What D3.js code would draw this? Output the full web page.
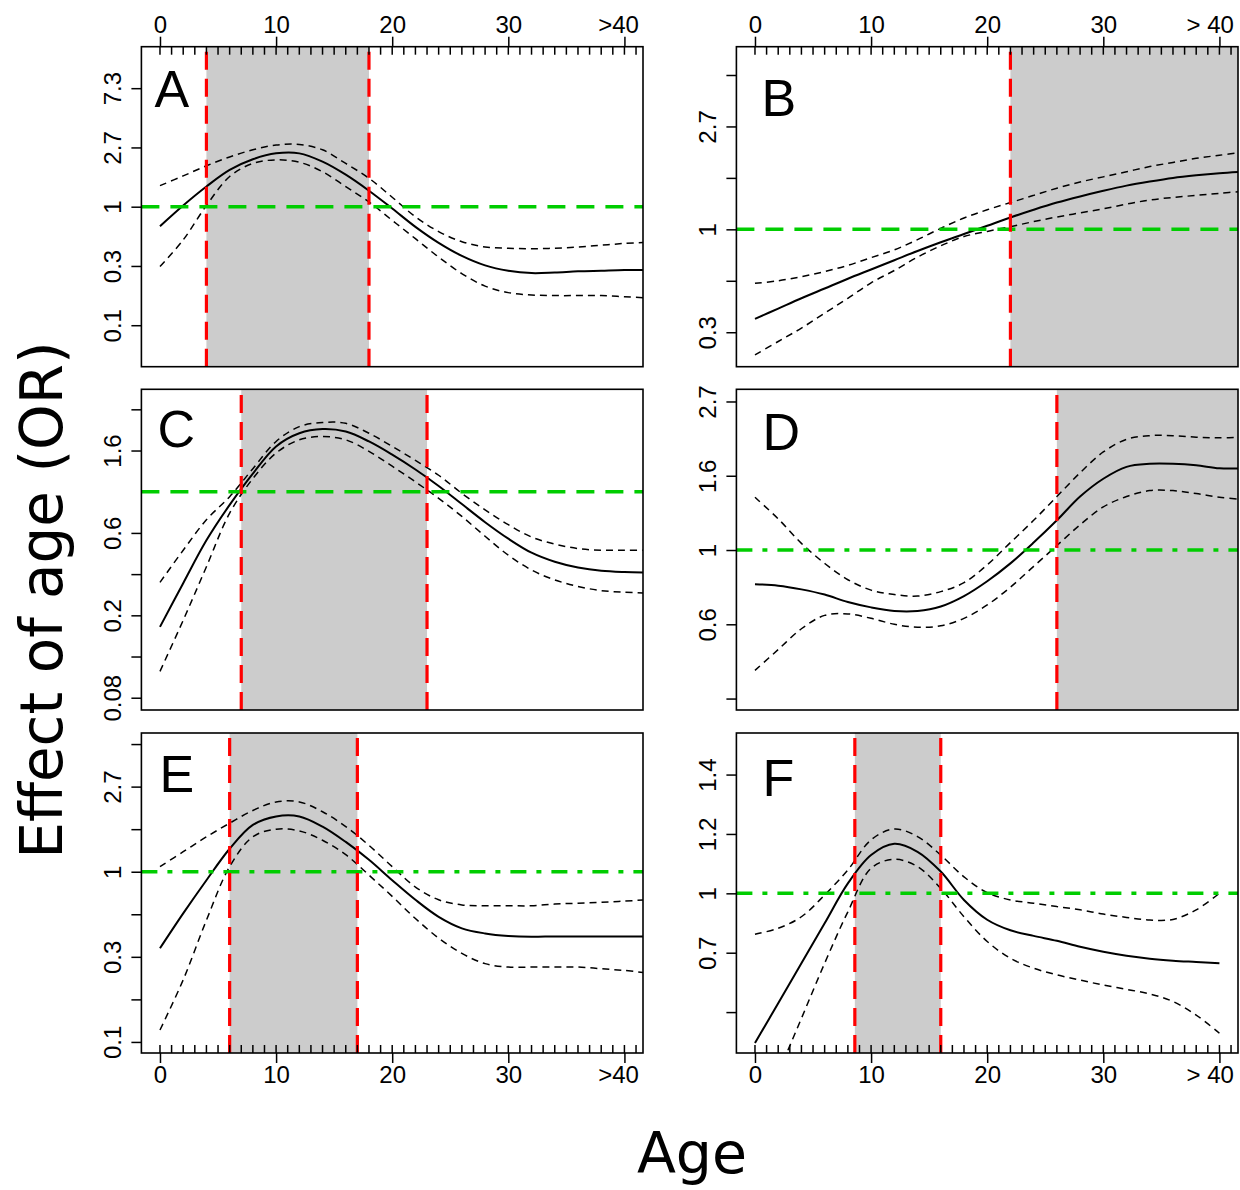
<!DOCTYPE html>
<html>
<head>
<meta charset="utf-8">
<script src="https://cdn.jsdelivr.net/npm/d3@7"></script>
<style>
  body { margin: 0; background: #fff; }
  svg { display: block; }
</style>
</head>
<body>
<div id="container"></div>
<script>
//DATA (effect of age on log odds ratio)
const ages  = [0,2,4,6,8,10,12,14,16,18,20,22,24,26,28,30,32,34,36,38,40,42];
const agesF = [0,2,4,6,8,10,12,14,16,18,20,22,24,26,28,30,32,34,36,38,40];

// panel A
const aFit   = [-0.33,0.02,0.34,0.62,0.80,0.90,0.90,0.76,0.54,0.27,-0.03,-0.34,-0.61,-0.83,-0.99,-1.08,-1.12,-1.11,-1.09,-1.08,-1.07,-1.07];
const aUpper = [0.355,0.52,0.69,0.84,0.96,1.04,1.05,0.96,0.73,0.48,0.16,-0.17,-0.42,-0.59,-0.68,-0.70,-0.71,-0.70,-0.68,-0.65,-0.62,-0.60];
const aLower = [-1.01,-0.56,0.02,0.51,0.73,0.79,0.75,0.59,0.34,0.08,-0.23,-0.54,-0.85,-1.13,-1.34,-1.45,-1.49,-1.50,-1.50,-1.50,-1.52,-1.54];
// panel B
const bFit   = [-0.87,-0.77,-0.67,-0.575,-0.48,-0.39,-0.30,-0.21,-0.125,-0.045,0.035,0.115,0.19,0.26,0.32,0.375,0.425,0.465,0.50,0.525,0.545,0.56];
const bUpper = [-0.525,-0.50,-0.46,-0.41,-0.35,-0.275,-0.20,-0.10,0.01,0.11,0.19,0.26,0.33,0.40,0.46,0.51,0.56,0.61,0.65,0.69,0.72,0.75];
const bLower = [-1.22,-1.09,-0.96,-0.815,-0.67,-0.52,-0.40,-0.27,-0.16,-0.07,-0.02,0.026,0.075,0.12,0.16,0.20,0.245,0.285,0.31,0.33,0.35,0.37];
// panel C
const cFit   = [-1.64,-1.11,-0.59,-0.16,0.22,0.55,0.71,0.76,0.73,0.61,0.45,0.27,0.07,-0.15,-0.37,-0.57,-0.74,-0.85,-0.92,-0.96,-0.975,-0.98];
const cUpper = [-1.10,-0.71,-0.34,-0.06,0.28,0.61,0.79,0.84,0.83,0.71,0.55,0.38,0.20,-0.02,-0.22,-0.40,-0.55,-0.635,-0.69,-0.71,-0.71,-0.71];
const cLower = [-2.18,-1.56,-0.91,-0.26,0.16,0.47,0.63,0.67,0.63,0.49,0.31,0.12,-0.08,-0.30,-0.54,-0.77,-0.95,-1.07,-1.15,-1.20,-1.22,-1.23];
// panel D
const dFit   = [-0.23,-0.24,-0.265,-0.30,-0.35,-0.386,-0.41,-0.41,-0.38,-0.31,-0.21,-0.09,0.05,0.20,0.36,0.48,0.56,0.58,0.58,0.57,0.55,0.55];
const dUpper = [0.355,0.21,0.045,-0.09,-0.20,-0.27,-0.30,-0.31,-0.28,-0.22,-0.10,0.05,0.20,0.36,0.52,0.66,0.745,0.77,0.77,0.76,0.755,0.76];
const dLower = [-0.81,-0.67,-0.53,-0.44,-0.43,-0.46,-0.50,-0.52,-0.51,-0.46,-0.37,-0.25,-0.11,0.03,0.17,0.29,0.36,0.40,0.40,0.38,0.355,0.34];
// panel E
const eFit   = [-0.90,-0.49,-0.10,0.27,0.55,0.65,0.65,0.53,0.35,0.14,-0.10,-0.33,-0.53,-0.665,-0.725,-0.755,-0.765,-0.76,-0.76,-0.76,-0.76,-0.76];
const eUpper = [0.06,0.235,0.41,0.57,0.72,0.82,0.82,0.705,0.53,0.31,0.06,-0.18,-0.33,-0.39,-0.40,-0.40,-0.40,-0.38,-0.37,-0.36,-0.345,-0.33];
const eLower = [-1.86,-1.27,-0.57,0.06,0.41,0.50,0.48,0.37,0.20,-0.04,-0.29,-0.55,-0.78,-0.96,-1.08,-1.12,-1.12,-1.12,-1.12,-1.14,-1.16,-1.19];
// panel F
const fFit   = [-0.454,-0.333,-0.212,-0.091,0.03,0.116,0.150,0.126,0.066,-0.02,-0.08,-0.112,-0.129,-0.144,-0.162,-0.177,-0.189,-0.198,-0.204,-0.208,-0.212];
const fUpper = [-0.124,-0.106,-0.071,-0.005,0.071,0.162,0.195,0.172,0.116,0.05,0.002,-0.02,-0.03,-0.04,-0.05,-0.063,-0.073,-0.081,-0.079,-0.05,0.0];
const fLower = [-0.71,-0.545,-0.379,-0.212,-0.056,0.076,0.103,0.081,0.015,-0.071,-0.146,-0.197,-0.227,-0.247,-0.263,-0.278,-0.291,-0.305,-0.328,-0.369,-0.424];

// y ticks (log OR positions) and their printed labels
const yTicksA = [-2,-1,0,1,2];                const yLabelsA = ["0.1","0.3","1","2.7","7.3"];
const yTicksB = [-1,-0.5,0,0.5,1,1.5];        const yLabelsB = ["0.3","","1","","2.7",""];
const yTicksC = [-2.5,-2,-1.5,-1,-0.5,0.5,1]; const yLabelsC = ["0.08","","0.2","","0.6","1.6",""];
const yTicksD = [-1,-0.5,0,0.5,1];            const yLabelsD = ["","0.6","1","1.6","2.7"];
const yTicksE = [-2,-1.5,-1,-0.5,0,0.5,1,1.5];const yLabelsE = ["0.1","","0.3","","1","","2.7",""];
const yTicksF = [-0.36,-0.18,0,0.18,0.36];    const yLabelsF = ["","0.7","1","1.2","1.4"];

// x ticks
const xTicks = [0,10,20,30,40];
const xLabelsLeft  = ["0","10","20","30",">40"];
const xLabelsRight = ["0","10","20","30","> 40"];
const rugAges = d3.range(0, 42);

// significant age windows (null = to the end of the axis) and cut lines
const shadeA = [4,18];    const cutsA = [4,18];
const shadeB = [22,null]; const cutsB = [22];
const shadeC = [7,23];    const cutsC = [7,23];
const shadeD = [26,null]; const cutsD = [26];
const shadeE = [6,17];    const cutsE = [6,17];
const shadeF = [8.6,16];  const cutsF = [8.6,16];

//LAYOUT
const width = 1240, height = 1190;
const cols = [[141.4, 643], [736.4, 1238]];
const rows = [[46.7, 366.7], [389.3, 710], [733, 1053]];
const xDomain = [-1.6, 41.6];

const panels = [
  {id:"A", c:0, r:0, x:ages,  fit:aFit, up:aUpper, lo:aLower, yd:[-2.7,2.7],     yt:yTicksA, yl:yLabelsA, shade:shadeA, cuts:cutsA, ref:"dash",    xaxis:"top",    xl:xLabelsLeft,  let:[13,60]},
  {id:"B", c:1, r:0, x:ages,  fit:bFit, up:bUpper, lo:bLower, yd:[-1.335,1.775], yt:yTicksB, yl:yLabelsB, shade:shadeB, cuts:cutsB, ref:"dash",    xaxis:"top",    xl:xLabelsRight, let:[25,69]},
  {id:"C", c:0, r:1, x:ages,  fit:cFit, up:cUpper, lo:cLower, yd:[-2.649,1.243], yt:yTicksC, yl:yLabelsC, shade:shadeC, cuts:cutsC, ref:"dash",    xaxis:null,     xl:null,         let:[16,58]},
  {id:"D", c:1, r:1, x:ages,  fit:dFit, up:dUpper, lo:dLower, yd:[-1.077,1.082], yt:yTicksD, yl:yLabelsD, shade:shadeD, cuts:cutsD, ref:"dashdot", xaxis:null,     xl:null,         let:[26,61]},
  {id:"E", c:0, r:2, x:ages,  fit:eFit, up:eUpper, lo:eLower, yd:[-2.13,1.63],   yt:yTicksE, yl:yLabelsE, shade:shadeE, cuts:cutsE, ref:"dashdot", xaxis:"bottom", xl:xLabelsLeft,  let:[18,59]},
  {id:"F", c:1, r:2, x:agesF, fit:fFit, up:fUpper, lo:fLower, yd:[-0.484,0.486], yt:yTicksF, yl:yLabelsF, shade:shadeF, cuts:cutsF, ref:"dashdot", xaxis:"bottom", xl:xLabelsRight, let:[26,63]}
];

const svg = d3.select("#container").append("svg")
    .attr("width", width)
    .attr("height", height)
    .attr("viewBox", "0 0 " + width + " " + height);

const tickFont = "'Liberation Sans', Arial, sans-serif";

panels.forEach(function(p) {
  const x0 = cols[p.c][0], x1 = cols[p.c][1];
  const y0 = rows[p.r][0], y1 = rows[p.r][1];
  const x = d3.scaleLinear().domain(xDomain).range([x0, x1]);
  const y = d3.scaleLinear().domain(p.yd).range([y1, y0]);
  const g = svg.append("g");

  const clipId = "clip" + p.id;
  svg.append("clipPath").attr("id", clipId)
    .append("rect").attr("x", x0).attr("y", y0).attr("width", x1 - x0).attr("height", y1 - y0);

  // shaded window
  const s0 = p.shade[0], s1 = p.shade[1] === null ? xDomain[1] : p.shade[1];
  g.append("rect")
    .attr("x", x(s0)).attr("y", y0)
    .attr("width", x(s1) - x(s0)).attr("height", y1 - y0)
    .attr("fill", "#cccccc");

  // curves
  const line = d3.line()
    .x(function(d, i) { return x(p.x[i]); })
    .y(function(d) { return y(d); })
    .curve(d3.curveCatmullRom.alpha(0.5));

  const cg = g.append("g").attr("clip-path", "url(#" + clipId + ")");
  [p.up, p.lo].forEach(function(arr) {
    cg.append("path").attr("d", line(arr))
      .attr("fill", "none").attr("stroke", "#000")
      .attr("stroke-width", 1.5).attr("stroke-dasharray", "7,5");
  });
  cg.append("path").attr("d", line(p.fit))
    .attr("fill", "none").attr("stroke", "#000").attr("stroke-width", 2);

  // reference line OR = 1
  cg.append("line")
    .attr("x1", x0).attr("x2", x1)
    .attr("y1", y(0)).attr("y2", y(0))
    .attr("stroke", "#00cd00").attr("stroke-width", 3.5)
    .attr("stroke-dasharray", p.ref === "dash" ? "18,11" : "16,10,5,10");

  // cut lines
  cg.selectAll("line.cut").data(p.cuts).enter().append("line")
    .attr("class", "cut")
    .attr("x1", function(d) { return x(d); }).attr("x2", function(d) { return x(d); })
    .attr("y1", y1).attr("y2", y0)
    .attr("stroke", "#ff0000").attr("stroke-width", 3.2)
    .attr("stroke-dasharray", "18,9");

  // frame
  g.append("rect")
    .attr("x", x0).attr("y", y0).attr("width", x1 - x0).attr("height", y1 - y0)
    .attr("fill", "none").attr("stroke", "#000").attr("stroke-width", 1.6);

  // y axis
  const yAxis = g.append("g")
    .attr("transform", "translate(" + x0 + ",0)")
    .call(d3.axisLeft(y).tickValues(p.yt).tickSize(10)
      .tickFormat(function(d, i) { return p.yl[i]; }));
  yAxis.select(".domain").remove();
  yAxis.selectAll(".tick line").attr("stroke-width", 1.5);
  yAxis.selectAll(".tick text")
    .attr("transform", "rotate(-90)")
    .attr("text-anchor", "middle")
    .attr("x", 0).attr("y", -20).attr("dy", 0)
    .style("font-family", tickFont).style("font-size", "24px").attr("fill", "#000");

  // x axis (outer labelled ticks + inner yearly ticks)
  if (p.xaxis) {
    const top = p.xaxis === "top";
    const gen = (top ? d3.axisTop(x) : d3.axisBottom(x))
      .tickValues(xTicks).tickSize(10).tickPadding(top ? 4 : 3)
      .tickFormat(function(d, i) { return p.xl[i]; });
    const xAxis = g.append("g")
      .attr("transform", "translate(0," + (top ? y0 : y1) + ")")
      .call(gen);
    xAxis.select(".domain").remove();
    xAxis.selectAll(".tick line").attr("stroke-width", 1.5);
    xAxis.selectAll(".tick text")
      .style("font-family", tickFont).style("font-size", "24px").attr("fill", "#000")
      .attr("text-anchor", function(d, i) { return i === xTicks.length - 1 ? "end" : "middle"; })
      .attr("dx", function(d, i) { return i === xTicks.length - 1 ? 14 : 0; });

    g.append("g").selectAll("line").data(rugAges).enter().append("line")
      .attr("x1", function(d) { return x(d); }).attr("x2", function(d) { return x(d); })
      .attr("y1", top ? y0 : y1).attr("y2", top ? y0 + 8 : y1 - 8)
      .attr("stroke", "#000").attr("stroke-width", 1.5);
  }

  // panel letter
  g.append("text")
    .attr("x", x0 + p.let[0]).attr("y", y0 + p.let[1])
    .style("font-family", tickFont).style("font-size", "52px")
    .text(p.id);
});

// axis titles
svg.append("text")
  .attr("transform", "translate(62,600) rotate(-90)")
  .attr("text-anchor", "middle")
  .style("font-family", "'DejaVu Sans', sans-serif").style("font-size", "58px")
  .text("Effect of age (OR)");

svg.append("text")
  .attr("x", 692).attr("y", 1173)
  .attr("text-anchor", "middle")
  .style("font-family", "'DejaVu Sans', sans-serif").style("font-size", "57px")
  .text("Age");
</script>
</body>
</html>
